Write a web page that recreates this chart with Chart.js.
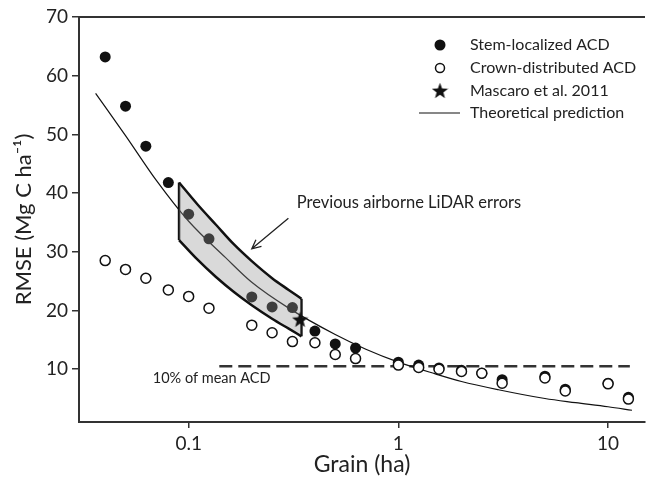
<!DOCTYPE html>
<html>
<head>
<meta charset="utf-8">
<script src="https://cdn.jsdelivr.net/npm/chart.js@4.4.1/dist/chart.umd.min.js"></script>
<style>
  html, body { margin: 0; padding: 0; background: #fff; }
</style>
</head>
<body>
<canvas id="rmseChart" width="654" height="478"></canvas>
<script>
// grain sizes (ha) and RMSE values
var grains = [0.04, 0.05, 0.0625, 0.08, 0.1, 0.125, 0.2, 0.25, 0.3125, 0.4, 0.5, 0.625,
  1, 1.25, 1.5625, 2, 2.5, 3.125, 5, 6.25, 10, 12.5];
var stemRmse = [63.2, 54.8, 48.0, 41.8, 36.4, 32.2, 22.3, 20.6, 20.5, 16.5, 14.3, 13.6,
  11.2, 10.7, 10.2, 9.8, 9.3, 8.2, 8.8, 6.6, 7.6, 5.2];
var crownRmse = [28.5, 27.0, 25.5, 23.5, 22.4, 20.4, 17.5, 16.2, 14.7, 14.5, 12.5, 11.8,
  10.7, 10.3, 10.0, 9.6, 9.3, 7.6, 8.5, 6.3, 7.5, 4.9];

var mascaroGrain = [0.34];
var mascaroRmse = [18.5];

// theoretical prediction curve, read at a few grains
var theoryGrain = [0.036, 0.05, 0.07, 0.1, 0.15, 0.2, 0.3, 0.5, 0.7, 1, 1.5, 2, 3, 5, 7, 10, 13];
var theoryRmse = [57, 49.8, 42.2, 35.2, 29.0, 24.8, 20.4, 15.9, 13.4, 11.2, 9.2, 7.9, 6.5, 5.0, 4.3, 3.6, 3.0];

// band of previous airborne LiDAR errors
var bandGrain = [0.09, 0.11, 0.135, 0.165, 0.2, 0.25, 0.3, 0.345];
var bandUpper = [41.8, 38.1, 34.6, 31.2, 28.4, 25.5, 23.5, 22.0];
var bandLower = [32.0, 28.7, 25.7, 23.1, 20.9, 18.6, 16.9, 15.6];

// 10% of mean ACD line
var tenPctGrain = [0.14, 12.7];
var tenPctRmse = [10.5, 10.5];

var xTicks = [0.1, 1, 10];
var yTicks = [10, 20, 30, 40, 50, 60, 70];

var FONT = "Lato, 'Open Sans', sans-serif";
var INK = "#111";

function pts(xs, ys) {
  return xs.map(function (x, i) { return { x: x, y: ys[i] }; });
}

// filled five point star used for the Mascaro marker
function makeStar(size) {
  var c = document.createElement("canvas");
  c.width = size; c.height = size;
  var g = c.getContext("2d");
  var cx = size / 2, cy = size / 2 + 0.8, ro = size / 2, ri = ro * 0.42;
  g.beginPath();
  for (var i = 0; i < 10; i++) {
    var r = i % 2 === 0 ? ro : ri;
    var a = -Math.PI / 2 + i * Math.PI / 5;
    g.lineTo(cx + r * Math.cos(a), cy + r * Math.sin(a));
  }
  g.closePath();
  g.fillStyle = INK;
  g.fill();
  return c;
}
var starImg = makeStar(17);

var frameAndNotes = {
  id: "frameAndNotes",
  afterDraw: function (chart) {
    var ctx = chart.ctx, a = chart.chartArea;
    var xs = chart.scales.x, ys = chart.scales.y;
    ctx.save();
    // top border
    ctx.strokeStyle = "#333";
    ctx.lineWidth = 2;
    ctx.beginPath();
    ctx.moveTo(a.left, a.top);
    ctx.lineTo(a.right, a.top);
    ctx.stroke();

    // arrow pointing at the band
    var x1 = xs.getPixelForValue(0.299), y1 = ys.getPixelForValue(35.7);
    var x2 = xs.getPixelForValue(0.2), y2 = ys.getPixelForValue(30.5);
    ctx.strokeStyle = "#222";
    ctx.lineWidth = 1.3;
    ctx.beginPath();
    ctx.moveTo(x1, y1);
    ctx.lineTo(x2, y2);
    var ang = Math.atan2(y1 - y2, x1 - x2);
    ctx.moveTo(x2 + 10 * Math.cos(ang - 0.45), y2 + 10 * Math.sin(ang - 0.45));
    ctx.lineTo(x2, y2);
    ctx.lineTo(x2 + 10 * Math.cos(ang + 0.45), y2 + 10 * Math.sin(ang + 0.45));
    ctx.stroke();

    ctx.fillStyle = "#222";
    ctx.textBaseline = "middle";
    ctx.textAlign = "left";
    ctx.font = "16.5px " + FONT;
    ctx.fillText("Previous airborne LiDAR errors", xs.getPixelForValue(0.328), ys.getPixelForValue(38.3));
    ctx.font = "14.5px " + FONT;
    ctx.fillText("10% of mean ACD", xs.getPixelForValue(0.0674), ys.getPixelForValue(8.4));

    // legend
    var lx = 440, tx = 470;
    var rows = [45, 68, 91, 113];
    ctx.font = "16px " + FONT;
    ctx.fillText("Stem-localized ACD", tx, rows[0]);
    ctx.fillText("Crown-distributed ACD", tx, rows[1]);
    ctx.fillText("Mascaro et al. 2011", tx, rows[2]);
    ctx.fillText("Theoretical prediction", tx, rows[3]);
    ctx.fillStyle = INK;
    ctx.beginPath();
    ctx.arc(lx, rows[0], 5.5, 0, Math.PI * 2);
    ctx.fill();
    ctx.strokeStyle = INK;
    ctx.lineWidth = 1.5;
    ctx.beginPath();
    ctx.arc(lx, rows[1], 4.5, 0, Math.PI * 2);
    ctx.stroke();
    ctx.drawImage(starImg, lx - 8.5, rows[2] - 9);
    ctx.lineWidth = 1.2;
    ctx.beginPath();
    ctx.moveTo(419, rows[3]);
    ctx.lineTo(460, rows[3]);
    ctx.stroke();
    ctx.restore();
  }
};

var ctx = document.getElementById("rmseChart").getContext("2d");
var rmseChart = new Chart(ctx, {
  type: "scatter",
  data: {
    datasets: [
      {
        label: "Mascaro et al. 2011",
        data: pts(mascaroGrain, mascaroRmse),
        pointStyle: starImg,
        pointRadius: 8,
      },
      {
        label: "band upper",
        data: pts(bandGrain, bandUpper),
        showLine: true,
        cubicInterpolationMode: "monotone",
        borderColor: INK,
        borderWidth: 2.5,
        pointRadius: 0,
        fill: false,
      },
      {
        label: "band lower",
        data: pts(bandGrain, bandLower),
        showLine: true,
        cubicInterpolationMode: "monotone",
        borderColor: INK,
        borderWidth: 2.5,
        pointRadius: 0,
        fill: "-1",
        backgroundColor: "rgba(146,146,146,0.35)",
      },
      {
        label: "band left",
        data: pts([bandGrain[0], bandGrain[0]], [bandLower[0], bandUpper[0]]),
        showLine: true,
        borderColor: INK,
        borderWidth: 2.5,
        pointRadius: 0,
      },
      {
        label: "band right",
        data: pts([bandGrain[7], bandGrain[7]], [bandLower[7], bandUpper[7]]),
        showLine: true,
        borderColor: INK,
        borderWidth: 2.5,
        pointRadius: 0,
      },
      {
        label: "Crown-distributed ACD",
        data: pts(grains, crownRmse),
        pointStyle: "circle",
        pointRadius: 5,
        pointBorderWidth: 1.5,
        pointBorderColor: INK,
        pointBackgroundColor: "#fff",
      },
      {
        label: "Stem-localized ACD",
        data: pts(grains, stemRmse),
        pointStyle: "circle",
        pointRadius: 5.5,
        pointBorderWidth: 0,
        pointBackgroundColor: INK,
      },
      {
        label: "Theoretical prediction",
        data: pts(theoryGrain, theoryRmse),
        showLine: true,
        cubicInterpolationMode: "monotone",
        borderColor: INK,
        borderWidth: 1.2,
        pointRadius: 0,
      },
      {
        label: "10% of mean ACD",
        data: pts(tenPctGrain, tenPctRmse),
        showLine: true,
        borderColor: "#333",
        borderWidth: 2.5,
        borderDash: [13, 6],
        pointRadius: 0,
      },
    ],
  },
  options: {
    responsive: false,
    animation: false,
    layout: { padding: { top: 17, left: 0, right: 0, bottom: 0 } },
    plugins: {
      legend: { display: false },
      tooltip: { enabled: false },
    },
    scales: {
      x: {
        type: "logarithmic",
        min: 0.03,
        max: 15,
        afterBuildTicks: function (s) {
          s.ticks = xTicks.map(function (v) { return { value: v }; });
        },
        afterFit: function (s) { s.height = 56; },
        ticks: {
          color: "#222",
          font: { family: FONT, size: 19 },
          padding: 4,
          maxRotation: 0,
          callback: function (v) { return String(v); },
        },
        grid: { drawOnChartArea: false, tickLength: 6, color: "#333", lineWidth: 1.5 },
        border: { color: "#333", width: 2 },
        title: {
          display: true,
          text: "Grain (ha)",
          color: "#222",
          font: { family: FONT, size: 23 },
          padding: { top: 0, bottom: 0 },
        },
      },
      y: {
        min: 1,
        max: 70,
        afterBuildTicks: function (s) {
          s.ticks = yTicks.map(function (v) { return { value: v }; });
        },
        afterFit: function (s) { s.width = 79; },
        ticks: {
          color: "#222",
          font: { family: FONT, size: 19 },
          padding: 4,
        },
        grid: { drawOnChartArea: false, tickLength: 7, color: "#333", lineWidth: 1.5 },
        border: { color: "#333", width: 2 },
        title: {
          display: true,
          text: "RMSE (Mg C ha\u207B\u00B9)",
          color: "#222",
          font: { family: FONT, size: 22 },
          padding: { top: 11, bottom: 0 },
        },
      },
    },
  },
  plugins: [frameAndNotes],
});
</script>
</body>
</html>
